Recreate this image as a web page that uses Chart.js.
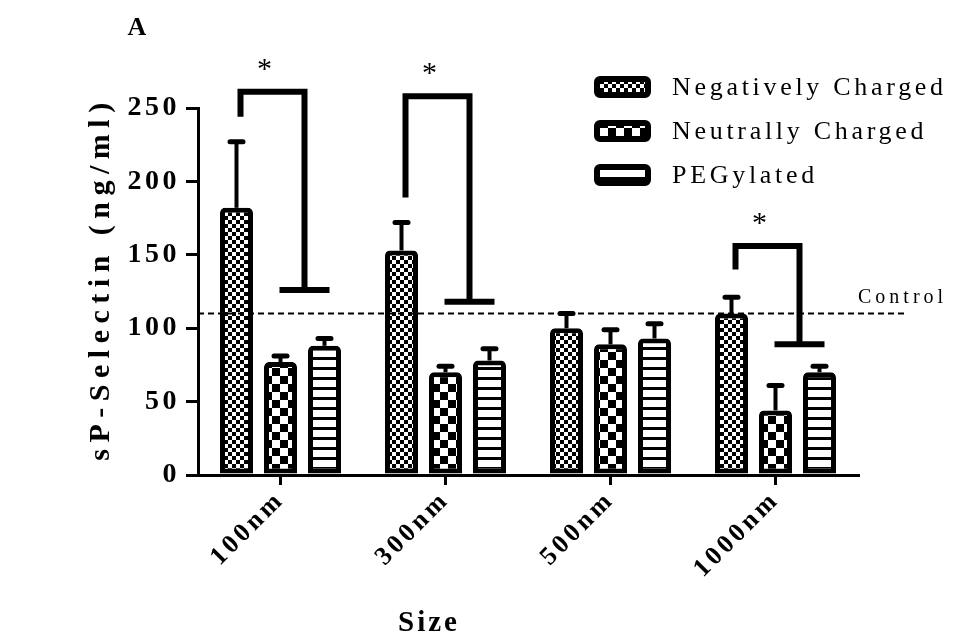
<!DOCTYPE html>
<html>
<head>
<meta charset="utf-8">
<title>sP-Selectin by particle size</title>
<script src="https://cdn.jsdelivr.net/npm/chart.js@4.4.1/dist/chart.umd.min.js"></script>
<style>
  html, body { margin: 0; padding: 0; background: #fff; }
  #wrap { width: 969px; height: 641px; }
</style>
</head>
<body>
<div id="wrap"><canvas id="selectinChart" width="969" height="641"></canvas></div>
<script>
const sizes = ['100nm', '300nm', '500nm', '1000nm'];
const seriesNames = ['Negatively Charged', 'Neutrally Charged', 'PEGylated'];
const negative = [182, 153, 100, 110];
const negativeErr = [45, 19, 10, 11];
const neutral = [77, 70, 89, 44];
const neutralErr = [4, 4, 10, 17];
const pegylated = [88, 78, 93, 70];
const pegylatedErr = [5, 8, 10, 4];
const yTicks = [0, 50, 100, 150, 200, 250];
const controlLevel = 110;

// significance brackets (group index, bracket top, left leg end, right leg end)
const sigGroups = [0, 1, 3];
const sigTop = [261, 258, 156];
const sigLeftEnd = [244, 189, 140];
const sigRightEnd = [126, 118, 89];

const SERIF = "'Liberation Serif', 'Times New Roman', serif";
const canvas = document.getElementById('selectinChart');
const ctx = canvas.getContext('2d');

// small repeating tiles for the bar fills
function makePattern(kind) {
    const tile = document.createElement('canvas');
    const g = tile.getContext('2d');
    if (kind === 'fineCheck') {
        tile.width = tile.height = 8;
        g.fillStyle = '#fff'; g.fillRect(0, 0, 8, 8);
        g.fillStyle = '#000'; g.fillRect(0, 0, 4, 4); g.fillRect(4, 4, 4, 4);
    } else if (kind === 'bigCheck') {
        tile.width = tile.height = 16;
        g.fillStyle = '#fff'; g.fillRect(0, 0, 16, 16);
        g.fillStyle = '#000'; g.fillRect(0, 0, 8, 8); g.fillRect(8, 8, 8, 8);
    } else {
        tile.width = 10; tile.height = 10;
        g.fillStyle = '#fff'; g.fillRect(0, 0, 10, 10);
        g.fillStyle = '#000'; g.fillRect(0, 7, 10, 3);
    }
    return ctx.createPattern(tile, 'repeat');
}

const fills = [makePattern('fineCheck'), makePattern('bigCheck'), makePattern('stripes')];
const errors = [negativeErr, neutralErr, pegylatedErr];

function spaced(c, px) {
    c.letterSpacing = px + 'px';
}

const figurePlugin = {
    id: 'figureExtras',
    beforeDraw(chart) {
        spaced(chart.ctx, 3.5);
    },
    afterDatasetsDraw(chart) {
        const c = chart.ctx;
        const y = chart.scales.y;
        c.save();
        c.strokeStyle = '#000';
        chart.data.datasets.forEach((ds, di) => {
            const meta = chart.getDatasetMeta(di);
            meta.data.forEach((bar, i) => {
                const top = y.getPixelForValue(ds.data[i] + errors[di][i]);
                c.lineWidth = 4;
                c.lineCap = 'butt';
                c.beginPath();
                c.moveTo(bar.x, bar.y);
                c.lineTo(bar.x, top);
                c.stroke();
                c.lineCap = 'round';
                c.lineWidth = 5;
                c.beginPath();
                c.moveTo(bar.x - 6.5, top);
                c.lineTo(bar.x + 6.5, top);
                c.stroke();
            });
        });
        c.restore();
    },
    afterDraw(chart) {
        const c = chart.ctx;
        const area = chart.chartArea;
        const y = chart.scales.y;
        c.save();

        // control level
        const cy = y.getPixelForValue(controlLevel);
        c.strokeStyle = '#000';
        c.lineWidth = 2;
        c.setLineDash([6, 4]);
        c.beginPath();
        c.moveTo(area.left, cy);
        c.lineTo(area.right + 47, cy);
        c.stroke();
        c.setLineDash([]);
        spaced(c, 4);
        c.fillStyle = '#000';
        c.font = '20px ' + SERIF;
        c.textAlign = 'left';
        c.textBaseline = 'middle';
        c.fillText('Control', area.right, cy - 16);

        // significance brackets
        const negMeta = chart.getDatasetMeta(0);
        const neuMeta = chart.getDatasetMeta(1);
        const pegMeta = chart.getDatasetMeta(2);
        sigGroups.forEach((g, k) => {
            const lx = negMeta.data[g].x + 4;
            const rx = (neuMeta.data[g].x + pegMeta.data[g].x) / 2 + 2;
            const ty = y.getPixelForValue(sigTop[k]);
            const ly = y.getPixelForValue(sigLeftEnd[k]);
            const ry = y.getPixelForValue(sigRightEnd[k]);
            c.lineWidth = 6;
            c.lineCap = 'butt';
            c.beginPath();
            c.moveTo(lx, ly);
            c.lineTo(lx, ty);
            c.lineTo(rx, ty);
            c.lineTo(rx, ry);
            c.stroke();
            c.beginPath();
            c.moveTo(rx - 25, ry);
            c.lineTo(rx + 25, ry);
            c.stroke();
            spaced(c, 0);
            c.font = '30px ' + SERIF;
            c.textAlign = 'center';
            c.textBaseline = 'middle';
            c.fillText('*', (lx + rx) / 2 - 8, ty - 22);
        });

        // legend
        const boxL = area.right - 261;
        const rowY = area.top - 21;
        chart.data.datasets.forEach((ds, di) => {
            const yy = rowY + di * 44;
            c.beginPath();
            c.roundRect(boxL, yy - 8, 51, 16, 3);
            c.fillStyle = fills[di];
            c.fill();
            c.lineWidth = 6;
            c.strokeStyle = '#000';
            c.stroke();
            spaced(c, 3.7);
            c.fillStyle = '#000';
            c.font = '26px ' + SERIF;
            c.textAlign = 'left';
            c.textBaseline = 'middle';
            c.fillText(ds.label, boxL + 75, yy + 1);
        });

        // panel letter and axis titles
        spaced(c, 0);
        c.font = 'bold 26px ' + SERIF;
        c.textAlign = 'center';
        c.textBaseline = 'middle';
        c.fillText('A', area.left - 61, area.top - 80);

        spaced(c, 3);
        c.font = 'bold 29px ' + SERIF;
        c.fillText('Size', area.left + 231, area.bottom + 149);

        spaced(c, 6.5);
        c.font = 'bold 30px ' + SERIF;
        c.translate(area.left - 97, (area.top + area.bottom) / 2 - 10);
        c.rotate(-Math.PI / 2);
        c.fillText('sP-Selectin (ng/ml)', 3, 0);
        c.restore();
    }
};

new Chart(ctx, {
    type: 'bar',
    data: {
        labels: sizes,
        datasets: [
            { label: seriesNames[0], data: negative, backgroundColor: fills[0] },
            { label: seriesNames[1], data: neutral, backgroundColor: fills[1] },
            { label: seriesNames[2], data: pegylated, backgroundColor: fills[2] }
        ]
    },
    options: {
        responsive: false,
        animation: false,
        layout: { padding: { left: 0, right: 111, top: 108, bottom: 0 } },
        datasets: {
            bar: {
                categoryPercentage: 0.8,
                barPercentage: 0.75,
                borderColor: '#000',
                borderWidth: 5,
                borderSkipped: false,
                borderRadius: { topLeft: 5, topRight: 5, bottomLeft: 0, bottomRight: 0 }
            }
        },
        plugins: {
            legend: { display: false },
            tooltip: { enabled: false }
        },
        scales: {
            x: {
                grid: { display: true, offset: false, drawOnChartArea: false, drawTicks: true, tickLength: 10, color: '#000', lineWidth: 3 },
                border: { display: true, color: '#000', width: 3 },
                ticks: {
                    color: '#000',
                    font: { family: SERIF, size: 26, weight: 'bold' },
                    minRotation: 45,
                    maxRotation: 45,
                    padding: 0
                },
                afterFit(scale) { scale.height = 166; }
            },
            y: {
                min: 0,
                max: 250,
                afterBuildTicks(scale) { scale.ticks = yTicks.map(v => ({ value: v })); },
                grid: { display: true, drawOnChartArea: false, drawTicks: true, tickLength: 12, color: '#000', lineWidth: 3 },
                border: { display: true, color: '#000', width: 3 },
                ticks: {
                    color: '#000',
                    font: { family: SERIF, size: 28, weight: 'bold' },
                    padding: 6
                },
                afterFit(scale) { scale.width = 198; }
            }
        }
    },
    plugins: [figurePlugin]
});
</script>
</body>
</html>
